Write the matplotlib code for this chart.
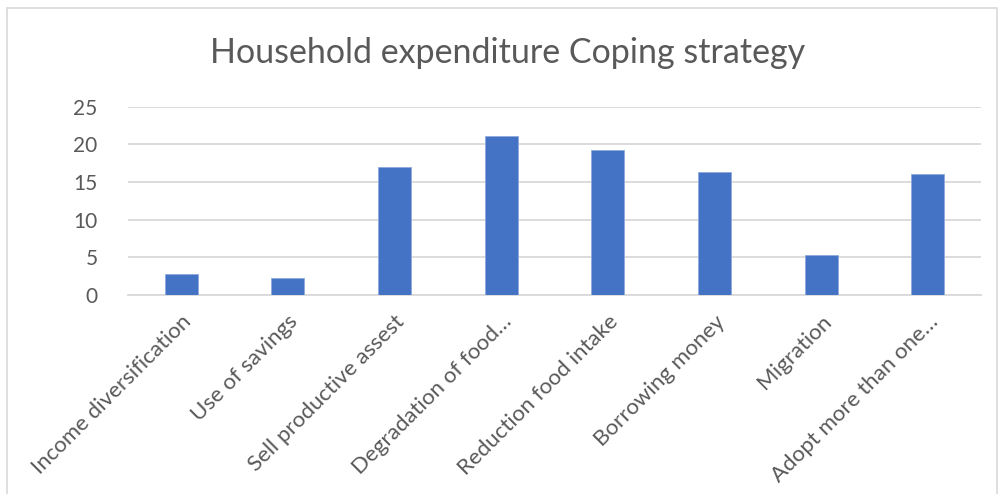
import matplotlib
matplotlib.use("Agg")
import matplotlib.pyplot as plt
from matplotlib.patches import Rectangle

# coping strategies and their share
strategies = [
    "Income diversification",
    "Use of savings",
    "Sell productive assest",
    "Degradation of food…",
    "Reduction food intake",
    "Borrowing money",
    "Migration",
    "Adopt more than one…",
]
values = [2.8, 2.2, 17.0, 21.1, 19.2, 16.3, 5.3, 16.0]
yticks = [0, 5, 10, 15, 20, 25]

plt.rcParams["font.family"] = ["Lato", "DejaVu Sans"]
text_col = "#595959"
bar_col = "#4472C4"
grid_col = "#D9D9D9"

fig = plt.figure(figsize=(10, 4.94), dpi=100)
ax = fig.add_axes([0.128, 0.4028, 0.853, 0.3812])

x = range(len(strategies))
ax.bar(x, values, width=0.31, color=bar_col, edgecolor="#8FAADC", linewidth=0.6, zorder=3)

ax.set_xlim(-0.5, len(strategies) - 0.5)
ax.set_ylim(0, 25)
ax.set_yticks(yticks)
ax.set_yticklabels([str(t) for t in yticks], fontsize=15, color=text_col)
ax.yaxis.grid(True, color=grid_col, linewidth=1.3, zorder=0)
ax.set_xticks(list(x))
ax.set_xticklabels(strategies, rotation=45, ha="right", rotation_mode="anchor",
                   fontsize=16, color=text_col)
ax.tick_params(axis="both", length=0)
ax.tick_params(axis="y", pad=22)
ax.tick_params(axis="x", pad=12)
for s in ["top", "right", "left"]:
    ax.spines[s].set_visible(False)
ax.spines["bottom"].set_color(grid_col)
ax.spines["bottom"].set_linewidth(1.3)

fig.text(0.508, 0.893, "Household expenditure Coping strategy", ha="center", va="center",
         fontsize=24.5, color=text_col)

# light chart border
fig.patches.append(Rectangle((0.007, -0.01), 0.99, 0.994, transform=fig.transFigure,
                             fill=False, edgecolor="#D9D9D9", linewidth=1.2))

fig.savefig("out.png", dpi=100)
